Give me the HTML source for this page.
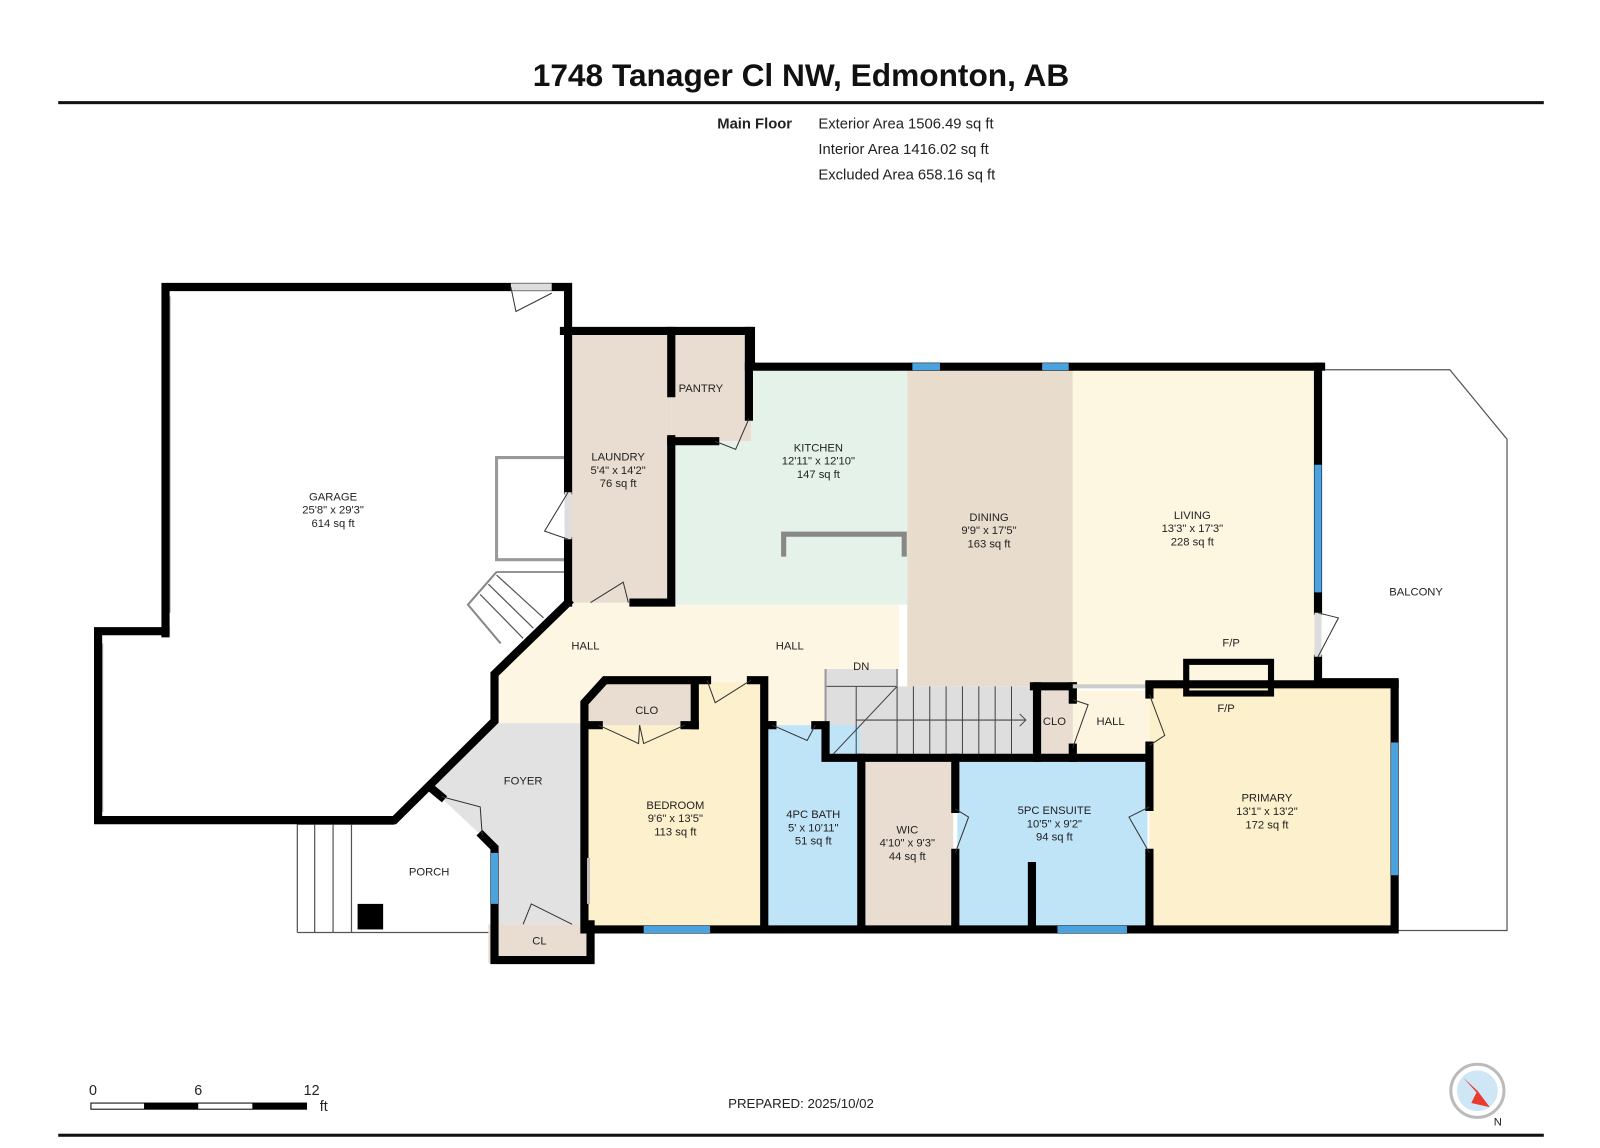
<!DOCTYPE html>
<html><head><meta charset="utf-8"><style>
html,body{margin:0;padding:0;background:#fff;}
svg{display:block;}
text{font-family:"Liberation Sans",sans-serif;fill:#222;}
.l{font-size:11px;text-anchor:middle;}
.w{fill:none;stroke:#000;stroke-width:8;stroke-linejoin:miter;stroke-linecap:square;}
.t{fill:none;stroke:#555;stroke-width:1.2;}
</style></head><body>
<svg width="1600" height="1148" viewBox="0 0 1566 1124" preserveAspectRatio="none" xmlns="http://www.w3.org/2000/svg">
<rect width="1566" height="1124" fill="#fff"/>
<text x="784" y="84" style="font-size:31px;font-weight:bold;text-anchor:middle;fill:#111">1748 Tanager Cl NW, Edmonton, AB</text>
<rect x="57" y="99" width="1454" height="3" fill="#111"/>
<text x="702" y="126" style="font-size:14.5px;font-weight:bold">Main Floor</text>
<text x="801" y="126" style="font-size:14.5px">Exterior Area 1506.49 sq ft</text>
<text x="801" y="151" style="font-size:14.5px">Interior Area 1416.02 sq ft</text>
<text x="801" y="176" style="font-size:14.5px">Excluded Area 658.16 sq ft</text>

<!-- fills -->
<polygon points="420,770 484,708 572,708 572,905 484,905 484,830" fill="#e2e2e2"/>
<polygon points="484,660 556,590 880,590 880,655 808,655 808,710 748,710 748,668 592,668 572,688 572,708 484,708" fill="#fdf6e3"/>
<rect x="556" y="324" width="101" height="266" fill="#e8ddd0"/>
<rect x="657" y="324" width="78" height="108" fill="#e8ddd0"/>
<polygon points="660,362 888,362 888,592 660,592 660,432 735,432 735,362" fill="#e5f2ea"/>
<rect x="888" y="362" width="162" height="310" fill="#e8dccd"/>
<rect x="1050" y="362" width="240" height="308" fill="#fdf7e2"/>
<rect x="1125" y="672" width="240" height="238" fill="#fdf0cc"/>
<rect x="1050" y="676" width="75" height="64" fill="#fdf5df"/>
<rect x="1015" y="676" width="35" height="64" fill="#e8ddd0"/>
<polygon points="808,655 878,655 878,672 1012,672 1012,742 808,742" fill="#dedede"/>
<polygon points="574,688 592,668 748,668 748,910 574,910" fill="#fdf0cc"/>
<polygon points="574,688 592,668 680,668 680,710 574,710" fill="#e8ddd0"/>
<rect x="750" y="710" width="92" height="200" fill="#bfe3f7"/>
<rect x="845" y="742" width="88" height="168" fill="#e8ddd0"/>
<rect x="937" y="742" width="186" height="168" fill="#bfe3f7"/>
<rect x="478" y="905" width="100" height="38" fill="#e8ddd0"/>

<!-- thin lines -->
<polyline class="t" points="1297,362 1419,362 1475,430 1475,911 1368,911"/>
<polyline class="t" points="291,913 291,807 386,807"/>
<line class="t" x1="291" y1="913" x2="478" y2="913"/>
<line class="t" x1="308" y1="807" x2="308" y2="913"/><line class="t" x1="326" y1="807" x2="326" y2="913"/><line class="t" x1="344" y1="807" x2="344" y2="913"/>
<rect x="350" y="885" width="25" height="25" fill="#000"/>
<polyline points="552,448 486,448 486,548 552,548" fill="none" stroke="#999" stroke-width="3"/>
<polyline points="486,560 458,592 490,630" fill="none" stroke="#888" stroke-width="2"/>
<line class="t" x1="486" y1="560" x2="552" y2="560"/>
<line class="t" x1="470" y1="582" x2="512" y2="625"/><line class="t" x1="478" y1="572" x2="522" y2="615"/><line class="t" x1="486" y1="563" x2="532" y2="605"/>
<line x1="165" y1="290" x2="165" y2="600" stroke="#aaa" stroke-width="4"/>
<line x1="99" y1="630" x2="99" y2="795" stroke="#aaa" stroke-width="4"/>
<!-- stairs -->
<g stroke="#444" stroke-width="1">
<line x1="878" y1="672" x2="878" y2="742"/><line x1="894" y1="672" x2="894" y2="742"/><line x1="910" y1="672" x2="910" y2="742"/><line x1="926" y1="672" x2="926" y2="742"/><line x1="942" y1="672" x2="942" y2="742"/><line x1="958" y1="672" x2="958" y2="742"/><line x1="974" y1="672" x2="974" y2="742"/><line x1="990" y1="672" x2="990" y2="742"/>
<line x1="808" y1="672" x2="878" y2="672"/><line x1="838" y1="672" x2="838" y2="742"/><line x1="812" y1="742" x2="878" y2="672"/>
<line x1="838" y1="705" x2="1004" y2="705"/><polyline points="998,699 1004,705 998,711" fill="none"/>
<line x1="808" y1="655" x2="808" y2="710" stroke="#999" stroke-width="2"/><line x1="878" y1="655" x2="878" y2="672" stroke="#999" stroke-width="2"/>
</g>
<text x="843" y="656" class="l">DN</text>
<polyline points="767,545 767,523 885,523 885,545" fill="none" stroke="#888" stroke-width="5"/>

<!-- walls -->
<polyline class="w" points="162,620 162,281 556,281 556,322"/>
<polyline class="w" points="162,618 96,618 96,803 386,803 484,706 484,660 556,590"/>
<polyline class="w" points="420,770 432,780"/>
<polyline class="w" points="472,818 484,830 484,940 578,940 578,905"/>
<line x1="484" y1="835" x2="484" y2="885" stroke="#4aa3df" stroke-width="7"/>
<polyline class="w" points="552,324 735,324 735,358"/>
<polyline class="w" points="556,324 556,480"/><polyline class="w" points="556,530 556,590"/>
<polyline class="w" points="657,324 657,385"/><polyline class="w" points="657,430 657,590 620,590"/>
<polyline class="w" points="657,432 700,432"/><polyline class="w" points="733,324 733,408"/>
<polyline class="w" points="733,359 1293,359"/>
<line x1="893" y1="359" x2="920" y2="359" stroke="#4aa3df" stroke-width="7"/>
<line x1="1020" y1="359" x2="1046" y2="359" stroke="#4aa3df" stroke-width="7"/>
<polyline class="w" points="1290,359 1290,598"/><polyline class="w" points="1290,645 1290,668 1365,668 1365,910 572,910 572,688 592,666 692,666"/>
<line x1="1290" y1="455" x2="1290" y2="580" stroke="#4aa3df" stroke-width="7"/>
<line x1="1365" y1="727" x2="1365" y2="857" stroke="#4aa3df" stroke-width="7"/>
<line x1="630" y1="910" x2="695" y2="910" stroke="#4aa3df" stroke-width="7"/>
<line x1="1035" y1="910" x2="1103" y2="910" stroke="#4aa3df" stroke-width="7"/>
<line x1="1290" y1="600" x2="1290" y2="643" stroke="#ddd" stroke-width="7"/>
<line x1="556" y1="482" x2="556" y2="528" stroke="#ddd" stroke-width="7"/>
<line x1="500" y1="281" x2="540" y2="281" stroke="#ddd" stroke-width="7"/>
<polyline class="w" points="735,666 748,666 748,910"/>
<polyline class="w" points="680,668 680,710"/><polyline class="w" points="574,710 586,710"/><polyline class="w" points="670,710 680,710"/>
<polyline class="w" points="750,710 756,710"/><polyline class="w" points="798,710 808,710 808,742 1125,742"/>
<polyline class="w" points="843,742 843,910"/><polyline class="w" points="935,742 935,792"/><polyline class="w" points="935,835 935,910"/>
<polyline class="w" points="1010,848 1010,910"/>
<polyline class="w" points="1125,672 1125,680"/><polyline class="w" points="1125,730 1125,790"/><polyline class="w" points="1125,835 1125,910"/>
<polyline class="w" points="1012,672 1050,672"/><polyline class="w" points="1015,672 1015,742"/>
<polyline class="w" points="1050,672 1050,685"/><polyline class="w" points="1050,732 1050,742"/>
<line x1="1050" y1="672" x2="1122" y2="672" stroke="#ccc" stroke-width="4"/>
<polyline class="w" points="1125,670 1365,670"/>
<rect x="1161" y="648" width="83" height="31" fill="none" stroke="#000" stroke-width="6"/>
<line x1="576" y1="840" x2="576" y2="885" stroke="#bbb" stroke-width="3"/>

<!-- door arcs -->
<g fill="none" stroke="#333" stroke-width="1">
<path d="M500,281 L505,305 L540,287"/><path d="M556,482 L533,520 L556,528"/>
<path d="M700,432 L720,440 L733,410"/><path d="M578,590 L610,570 L615,590"/>
<path d="M432,780 L470,790 L472,818"/><path d="M512,905 L520,885 L560,905"/>
<path d="M692,666 L700,688 L735,666"/><path d="M756,710 L790,725 L798,710"/>
<path d="M1290,600 L1310,605 L1290,643"/><path d="M1050,685 L1065,690 L1050,732"/>
<path d="M1125,680 L1140,720 L1125,730"/><path d="M935,792 L948,800 L935,835"/>
<path d="M1125,790 L1105,800 L1125,835"/><path d="M586,710 L625,728 L626,710 L630,728 L670,710"/>
</g>

<!-- labels -->
<text x="326" y="490" class="l">GARAGE</text><text x="326" y="503" class="l">25'8" x 29'3"</text><text x="326" y="516" class="l">614 sq ft</text>
<text x="605" y="451" class="l">LAUNDRY</text><text x="605" y="464" class="l">5'4" x 14'2"</text><text x="605" y="477" class="l">76 sq ft</text>
<text x="686" y="384" class="l">PANTRY</text>
<text x="801" y="442" class="l">KITCHEN</text><text x="801" y="455" class="l">12'11" x 12'10"</text><text x="801" y="468" class="l">147 sq ft</text>
<text x="968" y="510" class="l">DINING</text><text x="968" y="523" class="l">9'9" x 17'5"</text><text x="968" y="536" class="l">163 sq ft</text>
<text x="1167" y="508" class="l">LIVING</text><text x="1167" y="521" class="l">13'3" x 17'3"</text><text x="1167" y="534" class="l">228 sq ft</text>
<text x="1386" y="583" class="l">BALCONY</text>
<text x="1205" y="633" class="l">F/P</text><text x="1200" y="697" class="l">F/P</text>
<text x="573" y="636" class="l">HALL</text><text x="773" y="636" class="l">HALL</text>
<text x="633" y="699" class="l">CLO</text><text x="1032" y="710" class="l">CLO</text><text x="1087" y="710" class="l">HALL</text>
<text x="512" y="768" class="l">FOYER</text><text x="420" y="857" class="l">PORCH</text><text x="528" y="925" class="l">CL</text>
<text x="661" y="792" class="l">BEDROOM</text><text x="661" y="805" class="l">9'6" x 13'5"</text><text x="661" y="818" class="l">113 sq ft</text>
<text x="796" y="801" class="l">4PC BATH</text><text x="796" y="814" class="l">5' x 10'11"</text><text x="796" y="827" class="l">51 sq ft</text>
<text x="888" y="816" class="l">WIC</text><text x="888" y="829" class="l">4'10" x 9'3"</text><text x="888" y="842" class="l">44 sq ft</text>
<text x="1032" y="797" class="l">5PC ENSUITE</text><text x="1032" y="810" class="l">10'5" x 9'2"</text><text x="1032" y="823" class="l">94 sq ft</text>
<text x="1240" y="785" class="l">PRIMARY</text><text x="1240" y="798" class="l">13'1" x 13'2"</text><text x="1240" y="811" class="l">172 sq ft</text>

<!-- scale -->
<text x="91" y="1072" style="font-size:14px;text-anchor:middle">0</text>
<text x="194" y="1072" style="font-size:14px;text-anchor:middle">6</text>
<text x="305" y="1072" style="font-size:14px;text-anchor:middle">12</text>
<text x="313" y="1088" style="font-size:14px">ft</text>
<rect x="89" y="1080" width="211" height="6" fill="#fff" stroke="#000" stroke-width="1"/>
<rect x="141" y="1080" width="53" height="6" fill="#000"/><rect x="247" y="1080" width="53" height="6" fill="#000"/>
<text x="784" y="1085" style="font-size:13px;text-anchor:middle">PREPARED: 2025/10/02</text>
<rect x="57" y="1110" width="1454" height="3" fill="#111"/>
<circle cx="1446" cy="1068" r="26" fill="#fff" stroke="#bbb" stroke-width="3"/>
<circle cx="1446" cy="1068" r="20" fill="#cfe6f7"/>
<polygon points="1432,1055 1446,1068 1458,1084" fill="#e83a2f"/>
<polygon points="1446,1068 1458,1084 1440,1080" fill="#e83a2f"/>
<text x="1466" y="1102" style="font-size:11px;text-anchor:middle">N</text>
</svg>
</body></html>
